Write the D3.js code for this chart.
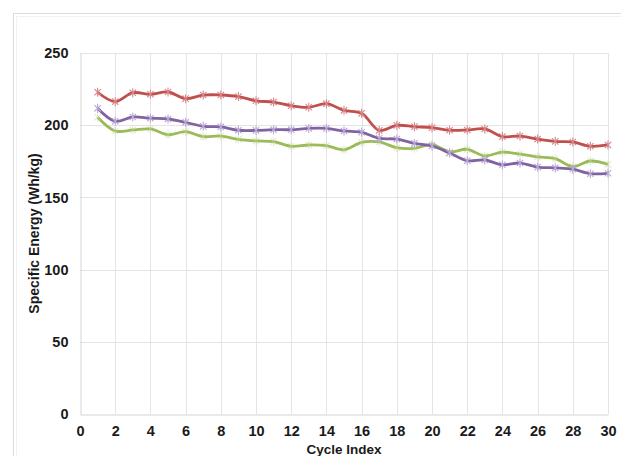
<!DOCTYPE html>
<html>
<head>
<meta charset="utf-8">
<script src="https://cdn.jsdelivr.net/npm/d3@7"></script>
<style>
  html, body { margin: 0; padding: 0; background: #fff; }
  svg { display: block; font-family: "Liberation Sans", Arial, sans-serif; }
</style>
</head>
<body>
<svg id="chart" width="621" height="456"></svg>
<script>
// Specific energy per cycle for three cells
const cycles = d3.range(1, 31);
const redSeries = [222.8, 216.3, 222.5, 221.4, 223.0, 218.4, 220.9, 220.9, 219.8, 216.9,
                   216.0, 213.5, 212.4, 214.9, 210.3, 208.2, 196.4, 199.9, 199.0, 198.3,
                   196.5, 196.7, 197.4, 192.1, 192.5, 190.4, 188.8, 188.4, 185.4, 186.3];
const purpleSeries = [211.7, 202.7, 205.7, 204.8, 204.3, 202.0, 199.2, 198.8, 196.5, 196.4,
                      196.9, 196.9, 197.8, 197.8, 196.0, 195.1, 190.9, 190.4, 187.4, 185.6,
                      180.7, 175.4, 175.9, 172.6, 173.8, 171.0, 170.4, 169.5, 166.4, 166.7];
const greenSeries = [205.5, 196.0, 196.7, 197.4, 193.4, 195.5, 192.1, 192.5, 190.2, 189.1,
                     188.6, 185.4, 186.3, 185.8, 183.0, 188.1, 188.4, 184.4, 184.0, 186.5,
                     181.6, 183.3, 178.7, 181.4, 180.0, 178.0, 176.8, 171.3, 175.2, 172.9];
const xTicks = d3.range(0, 31, 2);
const yTicks = [0, 50, 100, 150, 200, 250];
const xTitle = "Cycle Index";
const yTitle = "Specific Energy (Wh/kg)";

const series = [
  { values: greenSeries,  line: "#9bbb59", marker: "#c3d69b", markerOpacity: 0.5 },
  { values: purpleSeries, line: "#8064a2", marker: "#b9a7d6", markerOpacity: 1 },
  { values: redSeries,    line: "#c0504d", marker: "#d7868a", markerOpacity: 1 }
];

const svg = d3.select("#chart");
const W = 621, H = 456;
const m = { left: 80, right: W - 608, top: 53, bottom: H - 414 };

// outer chart frame
svg.append("rect")
  .attr("x", 13.5).attr("y", 13.5)
  .attr("width", W + 20).attr("height", H + 20)
  .attr("fill", "none").attr("stroke", "#dcdcdc");
svg.append("rect")
  .attr("x", 16.5).attr("y", 16.5)
  .attr("width", W + 20).attr("height", H + 20)
  .attr("fill", "none").attr("stroke", "#f2f2f2");

const x = d3.scaleLinear().domain([0, 30]).range([m.left, W - m.right]);
const y = d3.scaleLinear().domain([0, 250]).range([H - m.bottom, m.top]);

// gridlines
const grid = svg.append("g");
grid.selectAll("line.v").data(xTicks.filter(d => d > 0)).join("line")
  .attr("x1", d => Math.round(x(d)) + 0.5).attr("x2", d => Math.round(x(d)) + 0.5)
  .attr("y1", y(250)).attr("y2", y(0))
  .attr("stroke", "#e4e4e4");
grid.selectAll("line.h").data(yTicks.filter(d => d > 0)).join("line")
  .attr("x1", x(0)).attr("x2", x(30))
  .attr("y1", d => Math.round(y(d)) + 0.5).attr("y2", d => Math.round(y(d)) + 0.5)
  .attr("stroke", "#e4e4e4");

// axes
const xAxis = svg.append("g")
  .attr("transform", `translate(0,${Math.round(y(0)) + 0.5})`)
  .call(d3.axisBottom(x).tickValues(xTicks).tickSize(0).tickPadding(11));
xAxis.select(".domain").attr("stroke", "#d4d4d4");
xAxis.selectAll("text")
  .attr("fill", "#1a1a1a").attr("font-size", 14.5).attr("font-weight", "bold")
  .attr("font-family", "Liberation Sans, Arial, sans-serif");

const yAxis = svg.append("g")
  .attr("transform", `translate(${Math.round(x(0)) + 0.5},0)`)
  .call(d3.axisLeft(y).tickValues(yTicks).tickSize(0).tickPadding(12));
yAxis.select(".domain").attr("stroke", "#d4d4d4");
yAxis.selectAll("text")
  .attr("fill", "#1a1a1a").attr("font-size", 14.5).attr("font-weight", "bold")
  .attr("font-family", "Liberation Sans, Arial, sans-serif");

// axis titles
svg.append("text")
  .attr("x", (x(0) + x(30)) / 2).attr("y", 454)
  .attr("text-anchor", "middle")
  .attr("font-size", 13.5).attr("font-weight", "bold").attr("fill", "#1a1a1a")
  .text(xTitle);
svg.append("text")
  .attr("transform", `translate(39,${(y(0) + y(250)) / 2}) rotate(-90)`)
  .attr("text-anchor", "middle")
  .attr("font-size", 14).attr("font-weight", "bold").attr("fill", "#1a1a1a")
  .text(yTitle);

// smoothed series lines with star markers
const line = d3.line()
  .x((d, i) => x(cycles[i]))
  .y(d => y(d))
  .curve(d3.curveCatmullRom.alpha(0.5));

const starPath = r => {
  const a = r * 0.7071;
  return `M${-a},${-a}L${a},${a}M${-a},${a}L${a},${-a}M0,${-r}L0,${r}`;
};

series.forEach(s => {
  svg.append("path")
    .datum(s.values)
    .attr("d", line)
    .attr("fill", "none")
    .attr("stroke", s.line)
    .attr("stroke-width", 2.8)
    .attr("stroke-linejoin", "round");
  svg.append("g").selectAll("path").data(s.values).join("path")
    .attr("transform", (d, i) => `translate(${x(cycles[i])},${y(d)})`)
    .attr("d", starPath(4.5))
    .attr("stroke", s.marker)
    .attr("stroke-opacity", s.markerOpacity)
    .attr("stroke-width", 1.1)
    .attr("fill", "none");
});
</script>
</body>
</html>
